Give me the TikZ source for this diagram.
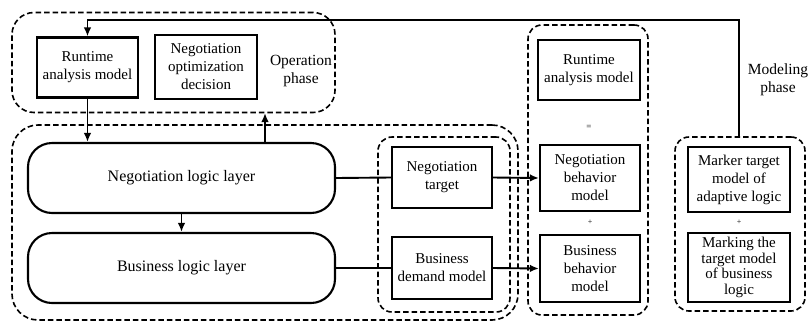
\documentclass[tikz,border=0pt]{standalone}
\usepackage{fontspec}
\setmainfont{Liberation Serif}
\usetikzlibrary{positioning, arrows.meta}

\begin{document}
\begin{tikzpicture}[x = 1pt, y = -1pt,
	model/.style = {draw, line width = 2.1pt, align = center, inner sep = 2pt,
		font = \fontsize{15}{18}\selectfont},
	layer/.style = {draw, line width = 2.1pt, rounded corners = 24pt,
		minimum width = 307pt, minimum height = 70pt,
		font = \fontsize{16}{19}\selectfont},
	phase/.style = {draw, dashed, dash pattern = on 5.5pt off 3pt, line width = 1.6pt,
		rounded corners = 14pt},
	note/.style = {align = center, font = \fontsize{15.5}{18.5}\selectfont},
	flow/.style = {line width = 1.9pt, -{Latex[length = 9pt, width = 7.5pt]}},
	link/.style = {line width = 1.9pt}]
	\useasboundingbox (0, 0) rectangle (808, 322);

	% dashed phase boxes
	\node[phase, rounded corners = 22pt, minimum width = 323pt, minimum height = 100pt] (opBox) at (173.5, 62.5) {};
	\node[phase, rounded corners = 26pt, minimum width = 506pt, minimum height = 195pt] (logicBox) at (265, 222.5) {};
	\node[phase, minimum width = 132pt, minimum height = 175pt] (goalBox) at (444, 224.5) {};
	\node[phase, minimum width = 120pt, minimum height = 290pt] (modelBox) at (588, 170) {};
	\node[phase, minimum width = 130pt, minimum height = 174pt] (markBox) at (740, 224) {};

	% operation phase
	\node[model, minimum width = 101pt, minimum height = 60pt] (rtOp) at (87.5, 67.5) {Runtime\\analysis model};
	\node[model, minimum width = 102pt, minimum height = 64pt] (optDec) at (206, 67) {Negotiation\\optimization\\decision};
	\node[note] (opText) at (301, 71) {Operation\\phase};

	% logic layers
	\node[layer] (negLayer) at (181.5, 178) {Negotiation logic layer};
	\node[layer] (busLayer) at (181.5, 268) {Business logic layer};

	\node[model, minimum width = 100pt, minimum height = 61pt] (negTarget) at (442, 177.5) {Negotiation\\target};
	\node[model, minimum width = 100pt, minimum height = 62pt] (busDemand) at (442, 268) {Business\\demand model};

	% models
	\node[model, minimum width = 102pt, minimum height = 60pt] (rtMod) at (589, 70) {Runtime\\analysis model};
	\node[note] (eqSign) at (589, 127) {\small =};
	\node[model, minimum width = 100pt, minimum height = 66pt] (negBeh) at (590, 178) {Negotiation\\behavior\\model};
	\node[note] (plusA) at (590, 222) {\footnotesize +};
	\node[model, minimum width = 100pt, minimum height = 67pt] (busBeh) at (590, 268.5) {Business\\behavior\\model};

	% modeling phase
	\node[note] (modText) at (778, 80) {Modeling\\phase};
	\node[model, minimum width = 102pt, minimum height = 65pt] (markAdapt) at (739, 179.5) {Marker target\\model of\\adaptive logic};
	\node[note] (plusB) at (739, 222) {\footnotesize +};
	\node[model, minimum width = 102pt, minimum height = 69pt,
		font = \fontsize{15}{15.5}\selectfont] (markBus) at (739, 267.5) {Marking the\\target model\\of business\\logic};

	% connectors
	\coordinate (fbTop) at (739, 20);
	\coordinate (upEnd) at (265, 113);
	\draw[flow] (markBox.north -| markAdapt) -- (fbTop) -| (rtOp.north);
	\draw[flow] (rtOp.south) -- (rtOp.south |- negLayer.north);
	\draw[flow] (upEnd |- negLayer.north) -- (upEnd);
	\draw[flow] (negLayer) -- (busLayer);
	\draw[link] (negLayer.east) -- (negTarget.west);
	\draw[link] (busLayer.east) -- (busDemand.west);
	\draw[flow] (negTarget.east) -- (negBeh.west);
	\draw[flow] (busDemand.east) -- (busBeh.west);
\end{tikzpicture}
\end{document}
